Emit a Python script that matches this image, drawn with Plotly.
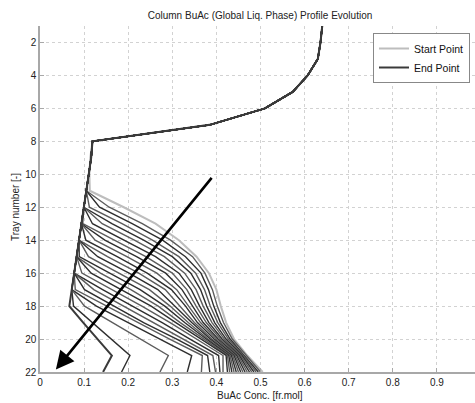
import plotly.graph_objects as go

# ---------------- data ----------------
trays = list(range(1, 23))
x_ticks = [0, 0.1, 0.2, 0.3, 0.4, 0.5, 0.6, 0.7, 0.8, 0.9]
x_tick_labels = ["0", "0.1", "0.2", "0.3", "0.4", "0.5", "0.6", "0.7", "0.8", "0.9"]
y_ticks = [2, 4, 6, 8, 10, 12, 14, 16, 18, 20, 22]

# common upper part of every profile (trays 1..8)
top_profile = [0.640, 0.636, 0.630, 0.607, 0.573, 0.510, 0.385, 0.119]

# lower part (trays 9..22) of each profile, from start point to end point
lower_profiles = [
    [0.114, 0.112, 0.113, 0.190, 0.262, 0.315, 0.355, 0.383, 0.400, 0.410, 0.422, 0.440, 0.470, 0.505],
    [0.116, 0.110, 0.105, 0.157, 0.232, 0.296, 0.346, 0.374, 0.391, 0.402, 0.416, 0.436, 0.467, 0.500],
    [0.116, 0.110, 0.105, 0.135, 0.209, 0.278, 0.330, 0.365, 0.382, 0.394, 0.409, 0.431, 0.464, 0.495],
    [0.116, 0.110, 0.105, 0.112, 0.186, 0.255, 0.315, 0.353, 0.373, 0.386, 0.403, 0.427, 0.461, 0.490],
    [0.116, 0.110, 0.105, 0.0995, 0.163, 0.235, 0.300, 0.342, 0.364, 0.378, 0.396, 0.422, 0.458, 0.485],
    [0.116, 0.110, 0.105, 0.0995, 0.141, 0.214, 0.282, 0.328, 0.354, 0.370, 0.390, 0.418, 0.455, 0.480],
    [0.116, 0.110, 0.105, 0.0995, 0.119, 0.192, 0.262, 0.315, 0.343, 0.362, 0.383, 0.413, 0.452, 0.475],
    [0.116, 0.110, 0.105, 0.0995, 0.097, 0.169, 0.240, 0.300, 0.333, 0.354, 0.377, 0.409, 0.449, 0.470],
    [0.116, 0.110, 0.105, 0.0995, 0.094, 0.147, 0.219, 0.285, 0.322, 0.346, 0.370, 0.404, 0.446, 0.465],
    [0.116, 0.110, 0.105, 0.0995, 0.094, 0.125, 0.197, 0.265, 0.310, 0.338, 0.364, 0.400, 0.443, 0.460],
    [0.116, 0.110, 0.105, 0.0995, 0.094, 0.104, 0.175, 0.243, 0.298, 0.330, 0.357, 0.395, 0.440, 0.455],
    [0.116, 0.110, 0.105, 0.0995, 0.094, 0.0885, 0.153, 0.224, 0.284, 0.318, 0.350, 0.390, 0.437, 0.450],
    [0.116, 0.110, 0.105, 0.0995, 0.094, 0.0885, 0.131, 0.202, 0.267, 0.306, 0.344, 0.386, 0.434, 0.445],
    [0.116, 0.110, 0.105, 0.0995, 0.094, 0.0885, 0.110, 0.180, 0.248, 0.295, 0.336, 0.381, 0.431, 0.440],
    [0.116, 0.110, 0.105, 0.0995, 0.094, 0.0885, 0.089, 0.158, 0.227, 0.283, 0.328, 0.377, 0.428, 0.435],
    [0.116, 0.110, 0.105, 0.0995, 0.094, 0.0885, 0.083, 0.137, 0.206, 0.268, 0.318, 0.372, 0.425, 0.430],
    [0.116, 0.110, 0.105, 0.0995, 0.094, 0.0885, 0.083, 0.116, 0.185, 0.252, 0.308, 0.366, 0.422, 0.425],
    [0.116, 0.110, 0.105, 0.0995, 0.094, 0.0885, 0.083, 0.095, 0.163, 0.231, 0.295, 0.355, 0.415, 0.415],
    [0.116, 0.110, 0.105, 0.0995, 0.094, 0.0885, 0.083, 0.0775, 0.142, 0.210, 0.277, 0.340, 0.405, 0.408],
    [0.116, 0.110, 0.105, 0.0995, 0.094, 0.0885, 0.083, 0.0775, 0.122, 0.189, 0.256, 0.322, 0.392, 0.398],
    [0.116, 0.110, 0.105, 0.0995, 0.094, 0.0885, 0.083, 0.0775, 0.101, 0.168, 0.235, 0.310, 0.380, 0.385],
    [0.116, 0.110, 0.105, 0.0995, 0.094, 0.0885, 0.083, 0.0775, 0.080, 0.151, 0.223, 0.294, 0.368, 0.366],
    [0.116, 0.110, 0.105, 0.0995, 0.094, 0.0885, 0.083, 0.0775, 0.072, 0.128, 0.200, 0.272, 0.344, 0.334],
    [0.116, 0.110, 0.105, 0.0995, 0.094, 0.0885, 0.083, 0.0775, 0.072, 0.101, 0.164, 0.227, 0.291, 0.272],
    [0.116, 0.110, 0.105, 0.0995, 0.094, 0.0885, 0.083, 0.0775, 0.072, 0.076, 0.119, 0.162, 0.204, 0.185],
    [0.116, 0.110, 0.105, 0.0995, 0.094, 0.0885, 0.083, 0.0775, 0.072, 0.0665, 0.098, 0.130, 0.163, 0.143],
]

# arrow showing direction of evolution (tail -> head), data coords
arrow_tail = (0.392, 10.13)
arrow_head = (0.036, 21.85)

# ---------------- figure ----------------
FONT = "Liberation Sans, Arial, Helvetica, sans-serif"
fig = go.Figure()

n = len(lower_profiles)
start_color = "#bdbdbd"
end_color = "#3a3a3a"
mid_colors = ["#2e2e2e", "#5c5c5c"]

fig.add_trace(go.Scatter(
    x=top_profile + lower_profiles[0], y=trays, mode="lines",
    line=dict(color=start_color, width=2), name="Start Point", showlegend=True))

for i in range(1, n - 1):
    fig.add_trace(go.Scatter(
        x=top_profile + lower_profiles[i], y=trays, mode="lines",
        line=dict(color=mid_colors[i % 2], width=1.4), showlegend=False,
        hoverinfo="skip"))

fig.add_trace(go.Scatter(
    x=top_profile + lower_profiles[-1], y=trays, mode="lines",
    line=dict(color=end_color, width=2), name="End Point", showlegend=True))

fig.add_annotation(
    x=arrow_head[0], y=arrow_head[1], ax=arrow_tail[0], ay=arrow_tail[1],
    xref="x", yref="y", axref="x", ayref="y", text="", showarrow=True,
    arrowhead=2, arrowsize=1.4, arrowwidth=2.6, arrowcolor="black")

W, H = 475, 403
PX_L, PX_T, PX_R, PX_B = 40, 26, 475, 372   # plot area in pixels
L, T, R, B = PX_L, PX_T, W - PX_R, H - PX_B
PW, PH = PX_R - PX_L, PX_B - PX_T


def paper_x(px):
    return (px - PX_L) / PW


def paper_y(py):
    return (PX_B - py) / PH


fig.update_layout(
    width=W, height=H,
    margin=dict(l=L, r=R, t=T, b=B),
    paper_bgcolor="white", plot_bgcolor="white",
    font=dict(family=FONT, size=10, color="#222"),
    title=dict(text="Column BuAc (Global Liq. Phase) Profile Evolution",
               x=260 / W, xref="container", xanchor="center",
               y=1 - 15 / H, yref="container", yanchor="middle",
               font=dict(family=FONT, size=10, color="#222")),
    showlegend=True,
    legend=dict(x=paper_x(470), xanchor="right", y=paper_y(33), yanchor="top",
                bgcolor="white", bordercolor="#888", borderwidth=1,
                font=dict(family=FONT, size=10.5, color="#111"),
                itemwidth=30, tracegroupgap=0),
)

fig.update_xaxes(
    range=[0, PW / 441.0], tickmode="array", tickvals=x_ticks, ticktext=x_tick_labels,
    showgrid=True, gridcolor="#d2d2d2", griddash="dot", gridwidth=1,
    showline=True, linecolor="#a8a8a8", linewidth=1.5,
    ticks="inside", ticklen=4, tickcolor="#a8a8a8", zeroline=False,
    tickfont=dict(family=FONT, size=10, color="#222"))
fig.update_yaxes(
    range=[22, 1], tickmode="array", tickvals=y_ticks,
    showgrid=True, gridcolor="#d2d2d2", griddash="dot", gridwidth=1,
    showline=True, linecolor="#a8a8a8", linewidth=1.5,
    ticks="inside", ticklen=4, tickcolor="#a8a8a8", zeroline=False,
    tickfont=dict(family=FONT, size=10, color="#222"))

fig.add_annotation(text="BuAc Conc. [fr.mol]", xref="paper", yref="paper",
                   x=paper_x(260), y=paper_y(395),
                   xanchor="center", yanchor="middle", showarrow=False,
                   font=dict(family=FONT, size=10, color="#222"))
fig.add_annotation(text="Tray number [-]", xref="paper", yref="paper",
                   x=paper_x(15), y=paper_y(207),
                   xanchor="center", yanchor="middle", showarrow=False, textangle=-90,
                   font=dict(family=FONT, size=10, color="#222"))

# remove the page's default body margin so the figure sits at the window's corner
fig.write_html("out.html",
               config={"displayModeBar": False},
               post_script="document.body.style.margin='0';document.body.style.overflow='hidden';")
